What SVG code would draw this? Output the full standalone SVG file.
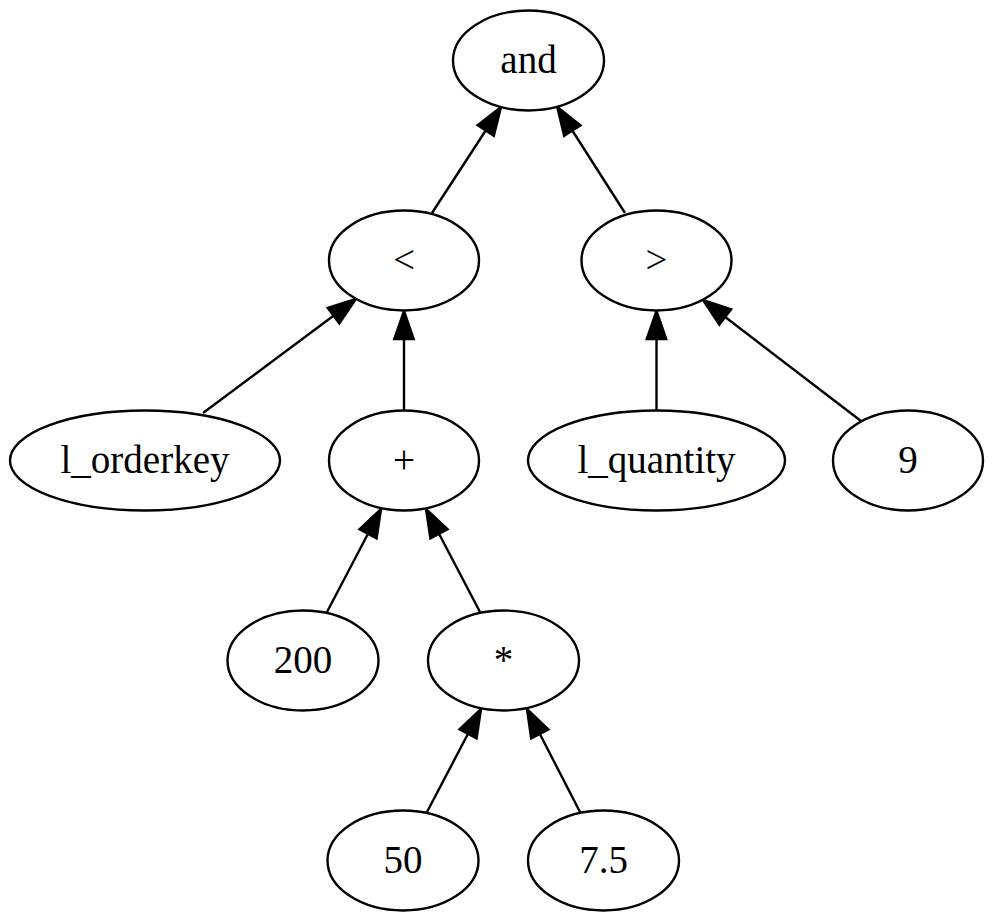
<svg xmlns="http://www.w3.org/2000/svg" width="996" height="922" viewBox="0 0 996 922">
<defs>
<style>
.node ellipse{fill:#fff;stroke:#000;stroke-width:2.4}
.node text{font-family:"Liberation Serif","Times New Roman",serif;font-size:39px;fill:#000;text-anchor:middle}
.edge line{stroke:#000;stroke-width:2.4;marker-end:url(#arr)}
</style>
<marker id="arr" markerUnits="userSpaceOnUse" markerWidth="32" markerHeight="24" refX="0" refY="0" orient="auto" overflow="visible">
<path d="M0,-9.7 L28,0 L0,9.7 Z" fill="#000" stroke="#000" stroke-width="2.4"/>
</marker>
</defs>
<rect width="996" height="922" fill="#fff"/>
<g id="edges" class="edge">
<line x1="432" y1="213" x2="485.7" y2="130.5"/>
<line x1="625" y1="213" x2="572.3" y2="130.5"/>
<line x1="203" y1="413" x2="333.5" y2="315.7"/>
<line x1="404" y1="410" x2="404" y2="339"/>
<line x1="656.5" y1="410" x2="656.5" y2="339"/>
<line x1="861" y1="421" x2="725.2" y2="317"/>
<line x1="327" y1="612" x2="368" y2="533.8"/>
<line x1="480" y1="612" x2="439" y2="533.8"/>
<line x1="427" y1="812" x2="468" y2="733.8"/>
<line x1="580" y1="812" x2="539.8" y2="733.9"/>
</g>
<g id="n_and" class="node"><ellipse cx="528.5" cy="60.5" rx="75.5" ry="50"/><text x="528.5" y="73">and</text></g>
<g id="n_lt" class="node"><ellipse cx="404" cy="260.5" rx="75" ry="50"/><text x="404" y="273">&lt;</text></g>
<g id="n_gt" class="node"><ellipse cx="656.5" cy="260.5" rx="75" ry="50"/><text x="656.5" y="273">&gt;</text></g>
<g id="n_orderkey" class="node"><ellipse cx="145" cy="460.5" rx="135" ry="50"/><text x="145" y="473">l_orderkey</text></g>
<g id="n_plus" class="node"><ellipse cx="404" cy="460.5" rx="75" ry="50"/><text x="404" y="473">+</text></g>
<g id="n_quantity" class="node"><ellipse cx="656.5" cy="460.5" rx="128.5" ry="50"/><text x="656.5" y="473">l_quantity</text></g>
<g id="n_9" class="node"><ellipse cx="908" cy="460.5" rx="75" ry="50"/><text x="908" y="473">9</text></g>
<g id="n_200" class="node"><ellipse cx="303" cy="660.5" rx="75.5" ry="50"/><text x="303" y="673">200</text></g>
<g id="n_mul" class="node"><ellipse cx="503.5" cy="660.5" rx="75.5" ry="50"/><text x="503.5" y="673">*</text></g>
<g id="n_50" class="node"><ellipse cx="403" cy="860.5" rx="75.5" ry="50"/><text x="403" y="873">50</text></g>
<g id="n_75" class="node"><ellipse cx="603.5" cy="860.5" rx="75.5" ry="50"/><text x="603.5" y="873">7.5</text></g>
</svg>
